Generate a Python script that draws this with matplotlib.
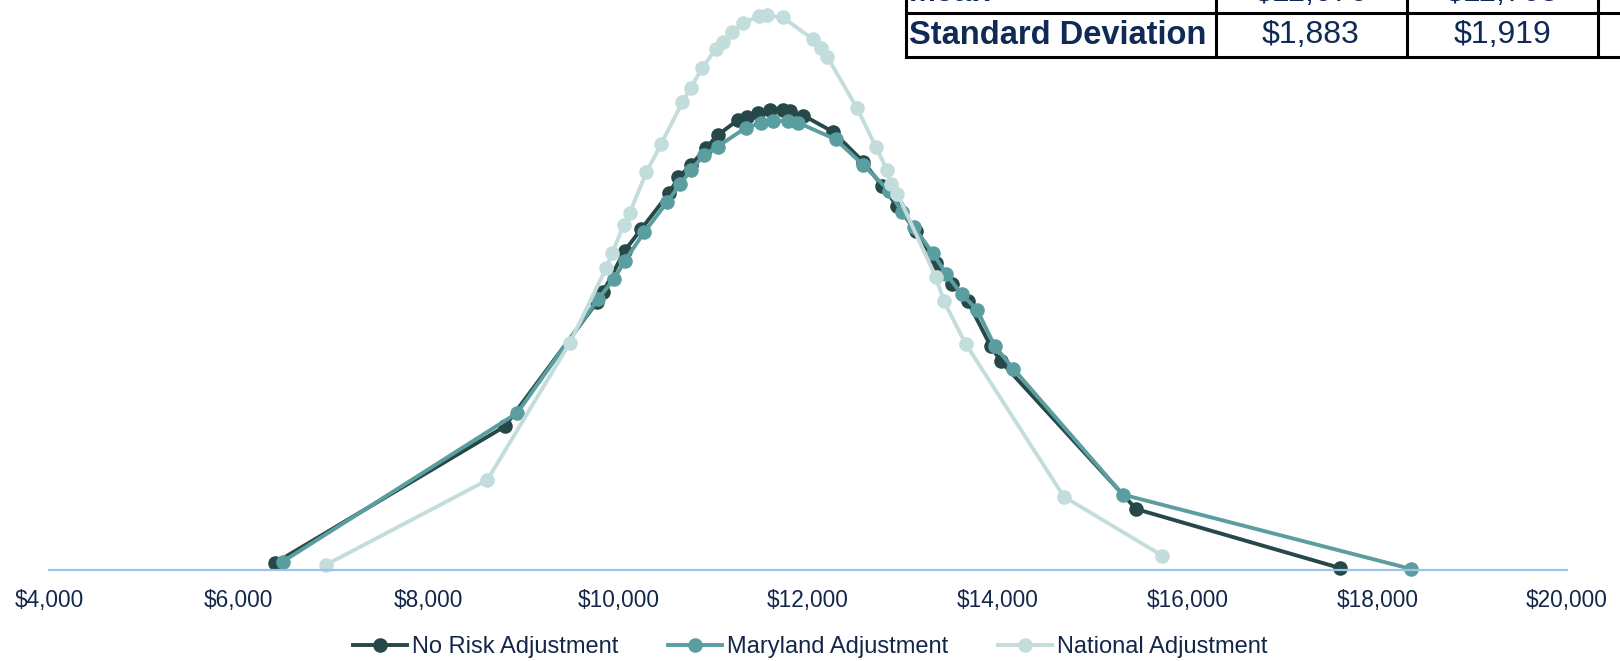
import matplotlib
matplotlib.use("Agg")
import matplotlib.pyplot as plt
from matplotlib.lines import Line2D
from matplotlib.patches import Rectangle

plt.rcParams['font.family'] = ['Liberation Sans', 'DejaVu Sans']

# Per-hospital cost (x) and distribution height (y, chart units)
no_risk_x = [6386, 8804, 9773, 9839, 10067, 10242, 10536, 10634, 10765, 10928,
             11048, 11266, 11353, 11473, 11603, 11734, 11810, 11952, 12268, 12584,
             12780, 12943, 13139, 13346, 13521, 13684, 13924, 14032, 15459, 17605]
no_risk_y = [7, 139, 259, 269, 309, 330, 365, 380, 392, 409,
             421, 436, 439, 442, 445, 445, 444, 440, 424, 395,
             372, 352, 328, 297, 277, 260, 217, 202, 59, 2]

maryland_x = [6462, 8935, 9784, 9958, 10067, 10274, 10514, 10656, 10765, 10906,
              11048, 11342, 11505, 11636, 11788, 11897, 12290, 12584, 12856, 12987,
              13117, 13313, 13455, 13619, 13782, 13967, 14163, 15318, 18357]
maryland_y = [8, 152, 262, 282, 299, 327, 356, 374, 387, 402,
              410, 428, 433, 435, 435, 433, 417, 392, 367, 347,
              332, 307, 287, 267, 252, 217, 195, 73, 1]

national_x = [6919, 8619, 9490, 9871, 9937, 10057, 10122, 10296, 10449, 10677,
              10765, 10884, 11026, 11102, 11200, 11320, 11483, 11571, 11734, 12050,
              12137, 12202, 12518, 12714, 12834, 12878, 12943, 13346, 13433, 13662,
              14697, 15732]
national_y = [5, 87, 220, 292, 307, 334, 346, 385, 412, 453,
              467, 486, 504, 511, 521, 530, 536, 537, 535, 514,
              505, 497, 447, 410, 387, 374, 364, 284, 260, 219,
              71, 14]

series_names = ["No Risk Adjustment", "Maryland Adjustment", "National Adjustment"]
series_colors = ["#274848", "#5B9EA0", "#C3DCDC"]

x_ticks = [4000, 6000, 8000, 10000, 12000, 14000, 16000, 18000, 20000]

table_row_labels = ["Mean", "Standard Deviation"]
table_means = ["$11,676", "$11,705"]
table_sds = ["$1,883", "$1,919"]

W, H = 1620, 661
fig = plt.figure(figsize=(W / 100, H / 100), dpi=100)
fig.patch.set_facecolor("white")


def fx(px):
    return px / W


def fy(py):
    return 1 - py / H


ax = fig.add_axes([fx(49), fy(570), fx(1567) - fx(49), fy(5) - fy(570)])
ax.set_xlim(4000, 20000)
ax.set_ylim(0, 547)

text_color = "#14264A"
for xs, ys, name, col in zip([no_risk_x, maryland_x, national_x],
                             [no_risk_y, maryland_y, national_y],
                             series_names, series_colors):
    ax.plot(xs, ys, color=col, lw=2.8, marker="o", markersize=10.5,
            markeredgewidth=0, label=name, clip_on=False, solid_joinstyle="round")

for s in ["top", "left", "right"]:
    ax.spines[s].set_visible(False)
ax.spines["bottom"].set_color("#9DC3E6")
ax.spines["bottom"].set_linewidth(1.6)
ax.set_yticks([])
ax.set_xticks(x_ticks)
ax.set_xticklabels([f"${v:,}" for v in x_ticks], fontsize=16.3, color=text_color)
ax.tick_params(axis="x", length=0, pad=14)

fig.legend(loc="center", bbox_to_anchor=(0.5, fy(647)), ncol=3, frameon=False,
           fontsize=17, handlelength=2.3, handletextpad=0.2, columnspacing=2.1,
           labelcolor=text_color)

# Summary table in the upper-right corner
tbl_color = "#102A55"
fig.add_artist(Rectangle((fx(906), fy(57)), 1 - fx(906), fy(-40) - fy(57),
                         transform=fig.transFigure, facecolor="white",
                         edgecolor="none", zorder=5))
lw_tbl = 2.2
for py in [13, 57]:
    fig.add_artist(Line2D([fx(906), 1.0], [fy(py), fy(py)], transform=fig.transFigure,
                          color="black", lw=lw_tbl, zorder=6, solid_capstyle="projecting"))
for px in [906, 1216, 1407, 1598]:
    fig.add_artist(Line2D([fx(px), fx(px)], [fy(-5), fy(57)], transform=fig.transFigure,
                          color="black", lw=lw_tbl, zorder=6, solid_capstyle="projecting"))

col_centers = [1311, 1502]
fig.text(fx(909), fy(1), table_row_labels[0], fontsize=23.5, fontweight="bold",
         color=tbl_color, ha="left", va="baseline", zorder=7)
for cx, v in zip(col_centers, table_means):
    fig.text(fx(cx), fy(1), v, fontsize=23, color=tbl_color, ha="center",
             va="baseline", zorder=7)
fig.text(fx(909), fy(35), table_row_labels[1], fontsize=23.5, fontweight="bold",
         color=tbl_color, ha="left", va="center", zorder=7)
for cx, v in zip(col_centers, table_sds):
    fig.text(fx(cx), fy(35), v, fontsize=23, color=tbl_color, ha="center",
             va="center", zorder=7)

fig.savefig("out.png", dpi=100, facecolor="white")
